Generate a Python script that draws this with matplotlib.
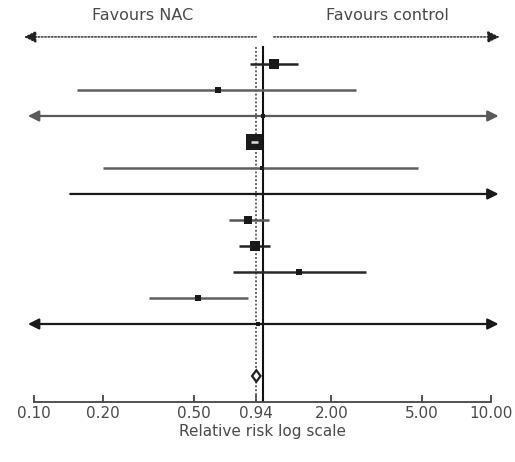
import numpy as np
import matplotlib.pyplot as plt

# study estimates (relative risk) with 95% CI, top to bottom
rr = [1.12, 0.64, 1.00, 0.92, 0.99, 3.54, 0.865, 0.93, 1.44, 0.52, 0.955]
ci_low = [0.88, 0.154, 0.02, 0.89, 0.20, 0.144, 0.71, 0.79, 0.74, 0.32, 0.03]
ci_high = [1.43, 2.57, 40.0, 0.96, 4.8, 30.0, 1.07, 1.08, 2.84, 0.865, 35.0]
weights = [13.5, 6.0, 1.5, 37.5, 1.5, 1.0, 10.7, 16.7, 6.0, 4.2, 1.5]

pooled_rr = 0.94
pooled_low = 0.90
pooled_high = 0.98

ticks = [0.1, 0.2, 0.5, 0.94, 2, 5, 10]
tick_labels = ['0.10', '0.20', '0.50', '0.94', '2.00', '5.00', '10.00']

line_colors = ['#222222', '#606060', '#5a5a5a', '#dddddd', '#606060', '#222222',
               '#555555', '#222222', '#2a2a2a', '#606060', '#222222']
text_color = '#4a4a4a'

clip_lo, clip_hi = 0.094, 10.8

fig = plt.figure(figsize=(5.15, 4.62), dpi=100)
ax = fig.add_axes([20 / 515, 60 / 462, 485 / 515, 402 / 462])
ax.set_xscale('log')
ax.set_xlim(0.0868, 11.52)
ax.set_ylim(13.0, -2.46)

rows = np.arange(len(rr))
pooled_row = len(rr) + 1

# reference lines: no effect and pooled estimate
ax.plot([1, 1], [-0.65, 13.0], color='#111111', lw=1.5, zorder=2)
ax.plot([pooled_rr, pooled_rr], [-0.65, 13.0], color='#666666', lw=1.4,
        ls=(0, (1, 1)), zorder=2)

for i in rows:
    lo, hi = ci_low[i], ci_high[i]
    c = line_colors[i]
    a, b = max(lo, clip_lo), min(hi, clip_hi)
    if lo < clip_lo and hi > clip_hi:
        style = '<|-|>'
    elif lo < clip_lo:
        style = '<|-'
    elif hi > clip_hi:
        style = '-|>'
    else:
        style = None
    if style:
        ax.annotate('', xy=(b, i), xytext=(a, i),
                    arrowprops=dict(arrowstyle=style, color='#1a1a1a' if c == '#222222' else c,
                                    lw=1.6, mutation_scale=16, shrinkA=0, shrinkB=0),
                    zorder=3)
    else:
        ax.plot([a, b], [i, i], color=c, lw=1.8, solid_capstyle='butt',
                zorder=3 if i != 3 else 5)
    size_px = 2.45 * np.sqrt(weights[i])
    ax.plot(rr[i], i, marker='s', ms=size_px * 0.72, color='#1a1a1a',
            mew=0, zorder=4)

# pooled estimate diamond
ax.fill([pooled_low, pooled_rr, pooled_high, pooled_rr],
        [pooled_row, pooled_row - 0.22, pooled_row, pooled_row + 0.22],
        facecolor='white', edgecolor='#222222', lw=1.6, zorder=5)

# favours arrows and labels
for tip, start in [(0.0905, 0.94), (10.9, 1.12)]:
    ax.annotate('', xy=(tip, -1.04), xytext=(start, -1.04),
                arrowprops=dict(arrowstyle='-|>', color='#222222', lw=1.0,
                                ls=(0, (1.2, 1.2)), mutation_scale=18,
                                shrinkA=0, shrinkB=0))
ax.text(0.30, -1.88, 'Favours NAC', ha='center', va='center', fontsize=11.5,
        color=text_color)
ax.text(3.51, -1.88, 'Favours control', ha='center', va='center', fontsize=11.5,
        color=text_color)

for s in ['left', 'top', 'right']:
    ax.spines[s].set_visible(False)
ax.spines['bottom'].set_bounds(0.1, 10)
ax.spines['bottom'].set_color('#444444')
ax.spines['bottom'].set_linewidth(1.3)
ax.set_yticks([])
ax.set_xticks(ticks)
ax.set_xticklabels(tick_labels)
ax.minorticks_off()
ax.tick_params(axis='x', direction='in', length=5, width=1.3, color='#444444',
               labelsize=11, labelcolor=text_color, pad=3)
ax.set_xlabel('Relative risk log scale', fontsize=11, color=text_color, labelpad=2)

fig.savefig('out.png', dpi=100)
